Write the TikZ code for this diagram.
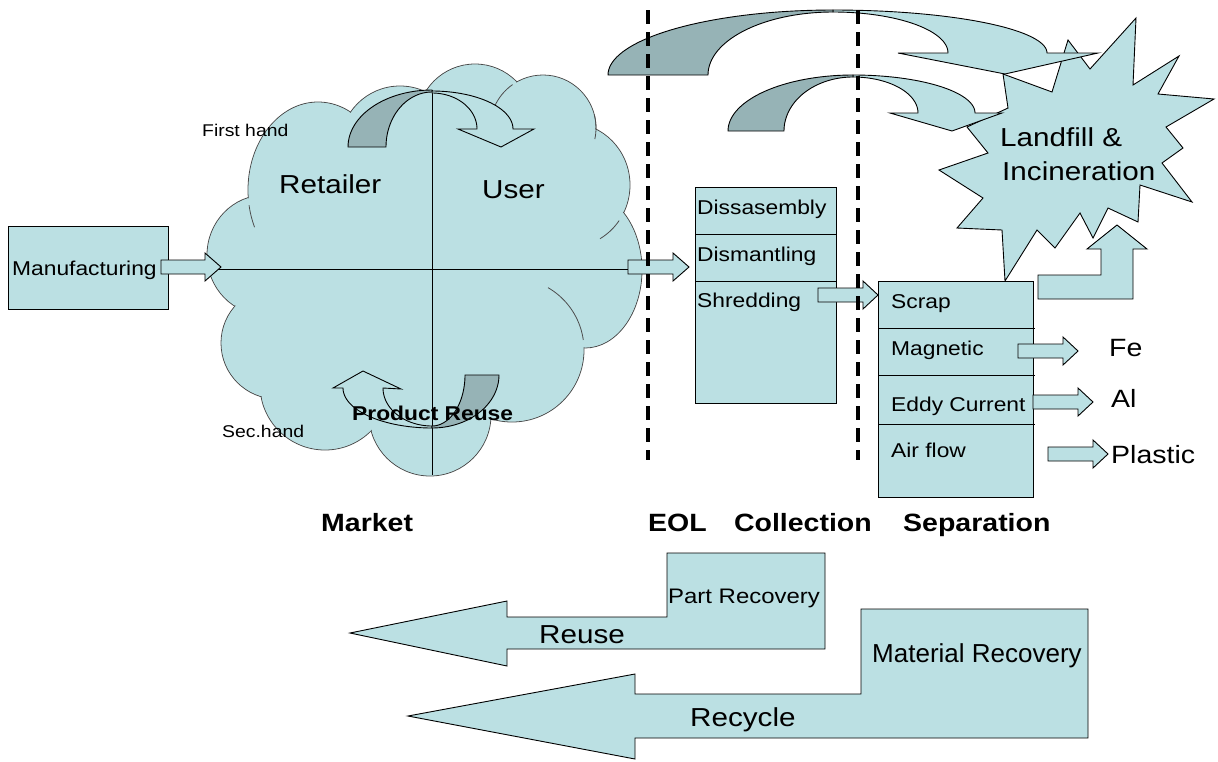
\documentclass[tikz,border=0pt]{standalone}
\usepackage{fontspec}
\setmainfont{Liberation Sans}
\newfontfamily\wide{Liberation Sans}[FakeStretch=1.14]
\definecolor{pale}{RGB}{187,224,227}
\definecolor{shade}{RGB}{150,179,182}
\newcommand{\fsz}[1]{\fontsize{#1}{#1}\selectfont}
% right-pointing block arrow: start x, centre y, head base x, tip x
\newcommand{\rblk}[4]{\draw[shapefill] (#1,#2-7) -- (#3,#2-7) -- (#3,#2-14) -- (#4,#2) -- (#3,#2+14) -- (#3,#2+7) -- (#1,#2+7) -- cycle;}
\begin{document}
\begin{tikzpicture}[x=1pt,y=-1pt,
  shapefill/.style={draw=black,line width=0.9pt,fill=pale,line join=miter},
  shadefill/.style={draw=black,line width=0.9pt,fill=shade,line join=miter},
  puff/.style={draw=black!70,line width=0.8pt,fill=pale},
  puffline/.style={draw=black!70,line width=0.8pt},
  rule/.style={draw=black,line width=0.9pt},
  guide/.style={draw=black,line width=4pt,dash pattern=on 14pt off 8pt},
  txt/.style={inner sep=0pt,anchor=base west,text=black},
  panel/.style={draw=black,line width=0.9pt,fill=pale,inner sep=0pt,anchor=north west}]

\useasboundingbox (0,0) rectangle (1218,761);

% ---------- market cloud ----------
\def\puffs{265/255/58/60, 318/190/70/88, 400/146/60/60, 475/122/58/58, 543/128/53/53, 570/185/60/62, 585/270/57/78, 512/350/72/72, 430/415/61/61, 325/385/65/65, 277/343/56/56}
\foreach \cx/\cy/\rx/\ry in \puffs {
  \draw[puff] (\cx,\cy) ellipse[x radius={\rx*1pt}, y radius={\ry*1pt}];
}
\fill[pale] (265,255) -- (318,190) -- (400,146) -- (475,122) -- (543,128) -- (570,185)
  -- (585,270) -- (512,350) -- (430,415) -- (325,385) -- (277,343) -- cycle;
\foreach \cx/\cy/\rx/\ry in \puffs {
  \fill[pale] (\cx,\cy) ellipse[x radius={(\rx-0.8)*1pt}, y radius={(\ry-0.8)*1pt}];
}
% visible puff seams
\draw[puffline] plot[domain=-60:-8,samples=20] ({512+72*cos(\x)},{350+72*sin(\x)});
\draw[puffline] plot[domain=-15:12,samples=10] ({543+53*cos(\x)},{128+53*sin(\x)});
\draw[puffline] plot[domain=35:60,samples=10] ({570+60*cos(\x)},{185+62*sin(\x)});
\draw[puffline] plot[domain=205:235,samples=10] ({543+53*cos(\x)},{128+53*sin(\x)});
\draw[puffline] plot[domain=155:170,samples=10] ({318+70*cos(\x)},{190+88*sin(\x)});

% quadrant lines
\coordinate (qtop) at (432,90);
\coordinate (qbot) at (432,475);
\coordinate (qleft) at (210,269);
\coordinate (qright) at (628,269);
\draw[rule] (qtop) -- (qbot);
\draw[rule] (qleft) -- (qright);

% first-hand curved arrow (retailer to user)
\draw[shapefill] plot[domain=270:360,samples=30] ({432+81*cos(\x)},{129+38*sin(\x)})
  -- (534,129) -- (501,147) -- (458,129)
  -- plot[domain=360:270,samples=30] ({432+45*cos(\x)},{129+36*sin(\x)}) -- cycle;
\draw[shadefill] plot[domain=180:270,samples=30] ({432+84*cos(\x)},{147+57*sin(\x)})
  -- plot[domain=270:180,samples=30] ({432+46*cos(\x)},{147+55*sin(\x)}) -- cycle;

% second-hand curved arrow (product reuse)
\draw[shapefill] plot[domain=90:180,samples=30] ({432+89*cos(\x)},{388+40*sin(\x)})
  -- (333,388) -- (363,371) -- (401,389)
  -- plot[domain=180:90,samples=30] ({432+49*cos(\x)},{388+38*sin(\x)}) -- cycle;
\draw[shadefill] plot[domain=0:90,samples=30] ({432+67*cos(\x)},{375+53*sin(\x)})
  -- plot[domain=90:0,samples=30] ({432+33*cos(\x)},{375+51*sin(\x)}) -- cycle;

% ---------- landfill star ----------
\draw[shapefill] (1136,18) -- (1133,85) -- (1179,56) -- (1158,94) -- (1214,99) -- (1166,127)
  -- (1183,148) -- (1162,163) -- (1192,202) -- (1140,185) -- (1138,222) -- (1108,208)
  -- (1093,238) -- (1080,213) -- (1055,248) -- (1037,230) -- (1005,281) -- (1002,230)
  -- (957,228) -- (983,198) -- (939,170) -- (988,153) -- (967,127) -- (1008,108)
  -- (1003,74) -- (1052,92) -- (1068,40) -- (1090,69) -- cycle;

% curved arrows to landfill
\draw[shapefill] plot[domain=270:360,samples=40] ({833+214*cos(\x)},{53+43*sin(\x)})
  -- (1098,53) -- (1005,74) -- (898,53)
  -- plot[domain=360:270,samples=40] ({833+115*cos(\x)},{53+41*sin(\x)}) -- cycle;
\draw[shadefill] plot[domain=180:270,samples=40] ({833+225*cos(\x)},{75+65*sin(\x)})
  -- plot[domain=270:180,samples=40] ({833+125*cos(\x)},{75+63*sin(\x)}) -- cycle;

\draw[shapefill] plot[domain=270:360,samples=40] ({853+122*cos(\x)},{113+38*sin(\x)})
  -- (1002,113) -- (952,131) -- (890,113)
  -- plot[domain=360:270,samples=40] ({853+65*cos(\x)},{113+36*sin(\x)}) -- cycle;
\draw[shadefill] plot[domain=180:270,samples=40] ({853+125*cos(\x)},{131+56*sin(\x)})
  -- plot[domain=270:180,samples=40] ({853+69*cos(\x)},{131+54*sin(\x)}) -- cycle;

% ---------- boxes ----------
\node[panel, minimum width=160pt, minimum height=83pt] (mfg) at (8,226) {};
\node[panel, minimum width=141pt, minimum height=216pt] (coll) at (695,187) {};
\draw[rule] (695,234) -- (836,234);
\draw[rule] (695,281) -- (836,281);
\node[panel, minimum width=155pt, minimum height=216pt] (sep) at (878,281) {};
\draw[rule] (878,328) -- (1035,328);
\draw[rule] (878,375) -- (1035,375);
\draw[rule] (878,424) -- (1035,424);

% block arrows
\rblk{161}{267}{205}{221}
\rblk{628}{267}{673}{689}
\rblk{818}{295}{863}{878}
\rblk{1018}{351}{1063}{1078}
\rblk{1033}{402}{1078}{1093}
\rblk{1048}{454}{1093}{1108}
\draw[shapefill] (1038,299) -- (1038,275) -- (1101,275) -- (1101,249) -- (1087,249) -- (1117,225)
  -- (1147,249) -- (1133,249) -- (1133,299) -- cycle;

% recovery loops
\draw[shapefill] (350,633) -- (507,601) -- (507,617) -- (667,617) -- (667,553) -- (825,553)
  -- (825,649) -- (507,649) -- (507,666) -- cycle;
\draw[shapefill] (408,716) -- (635,674) -- (635,694) -- (861,694) -- (861,609) -- (1088,609)
  -- (1088,738) -- (635,738) -- (635,759) -- cycle;

% stage boundaries
\draw[guide] (648,10) -- (648,460);
\draw[guide] (858,10) -- (858,460);

% ---------- texts ----------
\node[txt] (t-first) at (202,136) {\wide\fsz{17}First hand};
\node[txt] (t-sec) at (222,437) {\wide\fsz{17}Sec.hand};
\node[txt] (t-ret) at (279,193) {\wide\fsz{26}Retailer};
\node[txt] (t-user) at (482,198) {\wide\fsz{26}User};
\node[txt] (t-reuseprod) at (352,420) {\wide\bfseries\fsz{20}Product Reuse};
\node[txt] (t-mfg) at (12,275) {\wide\fsz{20}Manufacturing};
\node[txt] (t-land) at (1000,146) {\wide\fsz{26}Landfill \&};
\node[txt] (t-inc) at (1002,180) {\wide\fsz{26}Incineration};
\node[txt] (t-dis) at (697,214) {\wide\fsz{20}Dissasembly};
\node[txt] (t-dism) at (697,261) {\wide\fsz{20}Dismantling};
\node[txt] (t-shr) at (697,307) {\wide\fsz{20}Shredding};
\node[txt] (t-scrap) at (891,308) {\wide\fsz{20}Scrap};
\node[txt] (t-mag) at (891,355) {\wide\fsz{20}Magnetic};
\node[txt] (t-eddy) at (891,411) {\wide\fsz{20}Eddy Current};
\node[txt] (t-air) at (891,457) {\wide\fsz{20}Air flow};
\node[txt] (t-fe) at (1109,356) {\wide\fsz{25}Fe};
\node[txt] (t-al) at (1111,407) {\wide\fsz{25}Al};
\node[txt] (t-pl) at (1111,463) {\wide\fsz{25}Plastic};
\node[txt] (t-market) at (321,531) {\wide\bfseries\fsz{25}Market};
\node[txt] (t-eol) at (648,531) {\wide\bfseries\fsz{25}EOL};
\node[txt, anchor=base east] (t-coll) at (872,531) {\wide\bfseries\fsz{25}Collection};
\node[txt] (t-sep) at (903,531) {\wide\bfseries\fsz{25}Separation};
\node[txt] (t-part) at (668,603) {\wide\fsz{21}Part Recovery};
\node[txt] (t-reuse) at (539,643) {\wide\fsz{26}Reuse};
\node[txt] (t-mat) at (872,662) {\fsz{26}Material Recovery};
\node[txt] (t-rec) at (690,726) {\wide\fsz{26}Recycle};
\end{tikzpicture}
\end{document}
